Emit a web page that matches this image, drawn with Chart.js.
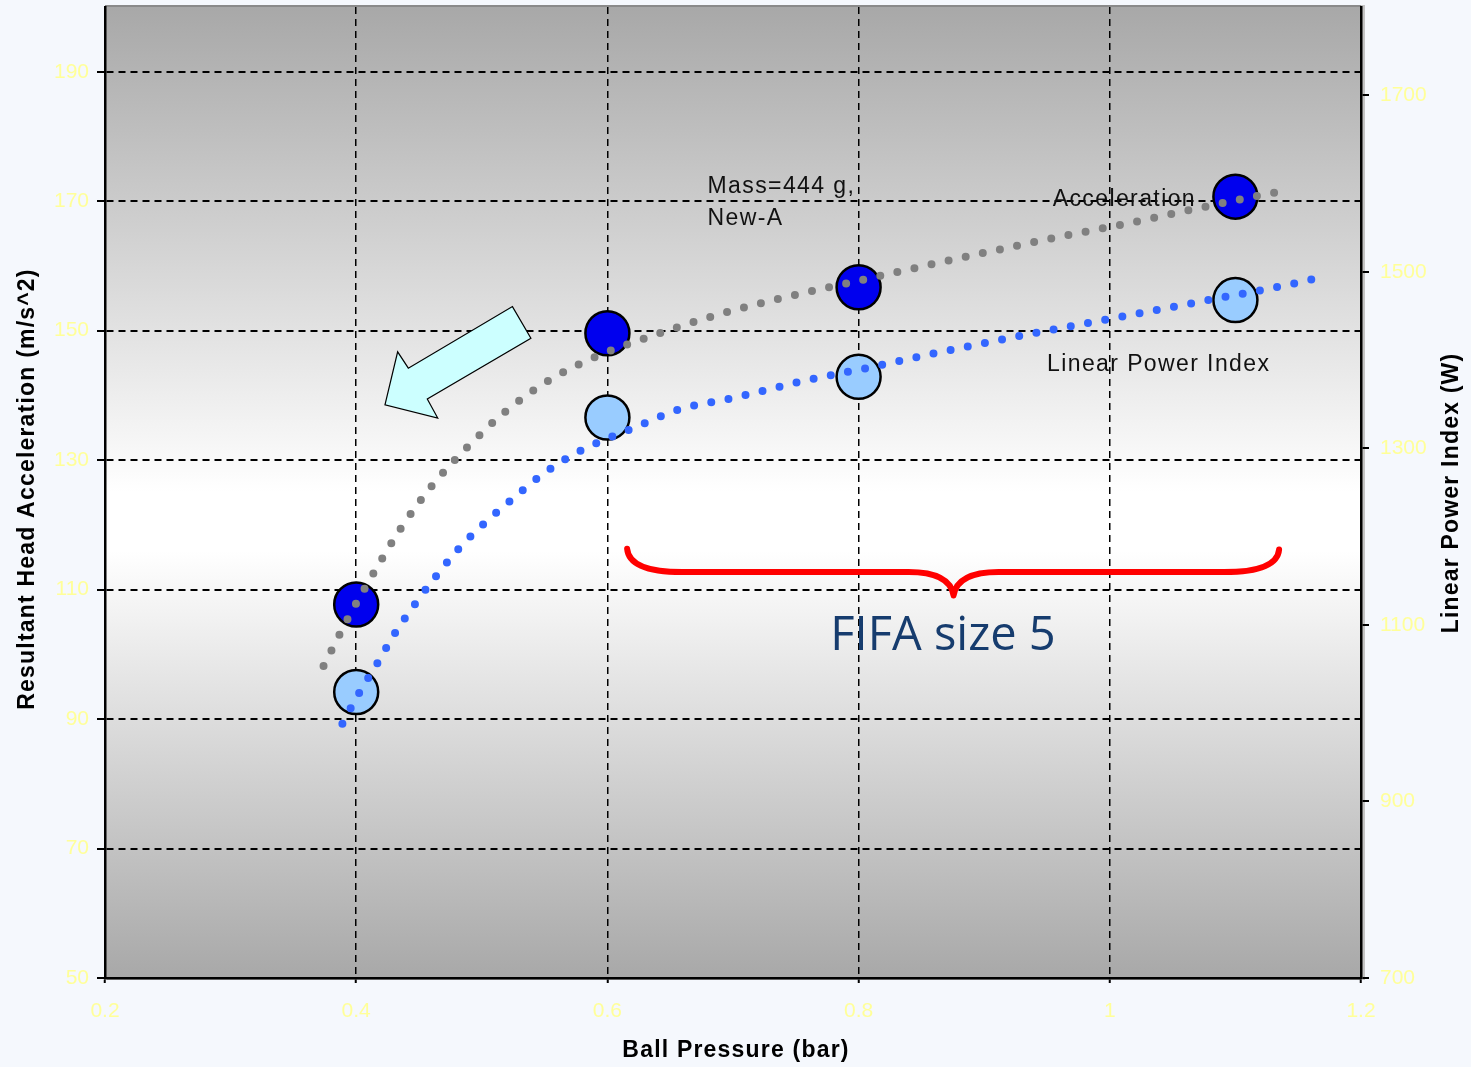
<!DOCTYPE html>
<html>
<head>
<meta charset="utf-8">
<script src="https://cdn.jsdelivr.net/npm/chart.js@4.4.0/dist/chart.umd.min.js"></script>
<style>
  html, body { margin: 0; padding: 0; background: #f5f8fd; }
  #wrap { width: 1471px; height: 1067px; position: relative; }
</style>
</head>
<body>
<div id="wrap"><canvas id="chart"></canvas></div>
<script>
// --- data ---
const pressures = [0.4, 0.6, 0.8, 1.1];
const acceleration = [107.7, 149.6, 156.7, 170.7];
const powerIndex = [1024, 1335, 1381, 1468];

// trend lines (dotted)
const accelTrendX = [0.374, 0.393, 0.414, 0.436, 0.461, 0.489, 0.520, 0.555, 0.592, 0.631, 0.685, 0.740, 0.795, 0.850, 0.904, 0.960, 1.015, 1.070, 1.125, 1.139];
const accelTrendY = [98.2, 105.4, 112.6, 119.6, 126.2, 132.1, 137.7, 142.5, 146.1, 148.9, 152.3, 155.1, 157.5, 159.9, 162.2, 164.5, 166.6, 168.9, 171.1, 171.6];
const powerTrendX = [0.389, 0.402, 0.417, 0.431, 0.447, 0.464, 0.482, 0.502, 0.523, 0.545, 0.568, 0.593, 0.619, 0.657, 0.700, 0.755, 0.810, 0.865, 0.920, 0.975, 1.031, 1.086, 1.141, 1.169];
const powerTrendY = [988, 1022, 1057, 1091, 1124, 1156, 1187, 1215, 1241, 1267, 1289, 1307, 1322, 1344, 1357, 1376, 1392, 1409, 1425, 1440, 1455, 1470, 1485, 1494];

const xTicks = [0.2, 0.4, 0.6, 0.8, 1, 1.2];
const leftTicks = [50, 70, 90, 110, 130, 150, 170, 190];
const rightTicks = [700, 900, 1100, 1300, 1500, 1700];

const tickFont = { family: 'Liberation Sans', size: 21 };
const tickColor = '#ffff99';

function toPoints(xs, ys) {
    return xs.map((x, i) => ({ x: x, y: ys[i] }));
}

// annotations are placed in data units (x, left axis)
const arrowShape = [[0.4229, 138.55], [0.4330, 146.73], [0.4415, 144.21], [0.5244, 153.72],
                    [0.5391, 148.84], [0.4566, 139.45], [0.4649, 136.50]];
const brace = { left: [0.6157, 116.3], right: [1.1348, 116.2], level: 112.7, tip: [0.8756, 109.1] };
const notes = [
    { text: 'Mass=444 g,', x: 0.6797, y: 172.3 },
    { text: 'New-A', x: 0.6797, y: 167.3 },
    { text: 'Acceleration', x: 0.9545, y: 170.2 },
    { text: 'Linear Power Index', x: 0.9500, y: 144.8 }
];

const backdrop = {
    id: 'backdrop',
    beforeDraw(chart) {
        const { ctx, chartArea: a } = chart;
        ctx.save();
        ctx.fillStyle = '#c4c4c4';
        ctx.fillRect(a.left + 2, a.top - 2, a.width + 2, a.height + 4);
        const g = ctx.createLinearGradient(0, a.top, 0, a.bottom);
        g.addColorStop(0, '#a8a8a8');
        g.addColorStop(0.5, '#ffffff');
        g.addColorStop(0.56, '#ffffff');
        g.addColorStop(1, '#a8a8a8');
        ctx.fillStyle = g;
        ctx.fillRect(a.left, a.top, a.width, a.height);
        ctx.strokeStyle = '#8a8a8a';
        ctx.lineWidth = 2;
        ctx.beginPath();
        ctx.moveTo(a.left, a.top - 1);
        ctx.lineTo(a.right, a.top - 1);
        ctx.stroke();
        ctx.restore();
    }
};

function vTitle(ctx, text, x, y) {
    ctx.save();
    ctx.translate(x, y);
    ctx.rotate(-Math.PI / 2);
    ctx.fillText(text, 0, 0);
    ctx.restore();
}

const decorations = {
    id: 'decorations',
    beforeDatasetsDraw(chart) {
        const { ctx } = chart;
        const xs = chart.scales.x, ys = chart.scales.y;
        const px = v => xs.getPixelForValue(v);
        const py = v => ys.getPixelForValue(v);
        ctx.save();

        // arrow
        ctx.beginPath();
        arrowShape.forEach((p, i) => {
            if (i === 0) ctx.moveTo(px(p[0]), py(p[1]));
            else ctx.lineTo(px(p[0]), py(p[1]));
        });
        ctx.closePath();
        ctx.fillStyle = '#ccffff';
        ctx.fill();
        ctx.strokeStyle = '#000';
        ctx.lineWidth = 1.2;
        ctx.stroke();

        // red brace
        const lx = px(brace.left[0]), ly = py(brace.left[1]);
        const rx = px(brace.right[0]), ry = py(brace.right[1]);
        const hy = py(brace.level);
        const tx = px(brace.tip[0]), ty = py(brace.tip[1]);
        ctx.beginPath();
        ctx.moveTo(lx, ly);
        ctx.quadraticCurveTo(lx + 2, hy, lx + 55, hy);
        ctx.lineTo(tx - 45, hy);
        ctx.quadraticCurveTo(tx - 4, hy, tx, ty);
        ctx.quadraticCurveTo(tx + 4, hy, tx + 45, hy);
        ctx.lineTo(rx - 55, hy);
        ctx.quadraticCurveTo(rx - 2, hy, rx, ry);
        ctx.strokeStyle = '#ff0000';
        ctx.lineWidth = 6;
        ctx.lineCap = 'round';
        ctx.lineJoin = 'round';
        ctx.stroke();

        // text notes
        ctx.fillStyle = '#111';
        ctx.font = '23px "Liberation Sans"';
        ctx.letterSpacing = '1.4px';
        ctx.textBaseline = 'middle';
        ctx.textAlign = 'left';
        notes.forEach(n => ctx.fillText(n.text, px(n.x), py(n.y)));

        ctx.letterSpacing = '0px';
        ctx.fillStyle = '#163c6e';
        ctx.font = '47px "Open Sans"';
        ctx.fillText('FIFA size 5', px(0.7775), py(102.8));
        ctx.restore();
    },
    afterDraw(chart) {
        const { ctx } = chart;
        ctx.save();
        ctx.fillStyle = '#000';
        ctx.font = 'bold 23px "Liberation Sans"';
        ctx.letterSpacing = '1.2px';
        ctx.textAlign = 'center';
        ctx.textBaseline = 'middle';
        ctx.fillText('Ball Pressure (bar)', 736, 1051);
        vTitle(ctx, 'Resultant Head Acceleration (m/s^2)', 28, 489);
        vTitle(ctx, 'Linear Power Index (W)', 1452, 493);
        ctx.restore();
    }
};

const ctx = document.getElementById('chart').getContext('2d');
new Chart(ctx, {
    type: 'scatter',
    data: {
        datasets: [
            {
                label: 'Acceleration trend',
                type: 'line',
                data: toPoints(accelTrendX, accelTrendY),
                yAxisID: 'y',
                borderColor: '#808080',
                borderWidth: 8,
                borderDash: [0, 17.5],
                borderCapStyle: 'round',
                pointRadius: 0,
                cubicInterpolationMode: 'monotone',
                fill: false,
                order: 0
            },
            {
                label: 'Linear Power Index trend',
                type: 'line',
                data: toPoints(powerTrendX, powerTrendY),
                yAxisID: 'y2',
                borderColor: '#3366ff',
                borderWidth: 8,
                borderDash: [0, 17.5],
                borderCapStyle: 'round',
                pointRadius: 0,
                cubicInterpolationMode: 'monotone',
                fill: false,
                order: 0
            },
            {
                label: 'Acceleration',
                data: toPoints(pressures, acceleration),
                yAxisID: 'y',
                pointRadius: 22,
                pointBackgroundColor: '#0000ee',
                pointBorderColor: '#000',
                pointBorderWidth: 2.5,
                order: 1
            },
            {
                label: 'Linear Power Index',
                data: toPoints(pressures, powerIndex),
                yAxisID: 'y2',
                pointRadius: 22,
                pointBackgroundColor: '#99ccff',
                pointBorderColor: '#000',
                pointBorderWidth: 2.5,
                order: 1
            }
        ]
    },
    options: {
        responsive: true,
        maintainAspectRatio: false,
        animation: false,
        layout: { autoPadding: false, padding: { top: 7, left: 0, right: 0, bottom: 0 } },
        plugins: {
            legend: { display: false },
            tooltip: { enabled: false }
        },
        scales: {
            x: {
                type: 'linear',
                min: 0.2,
                max: 1.2,
                afterBuildTicks: s => { s.ticks = xTicks.map(v => ({ value: v })); },
                afterFit: s => { s.height = 89; s.paddingLeft = 0; s.paddingRight = 0; },
                grid: { color: '#000', lineWidth: 1.5, tickLength: 5, tickWidth: 2, tickBorderDash: [] },
                border: { display: true, color: '#000', width: 2.5, dash: [7, 5] },
                ticks: { color: tickColor, font: tickFont, padding: 16, callback: v => String(v) }
            },
            y: {
                position: 'left',
                min: 50,
                max: 200,
                afterBuildTicks: s => { s.ticks = leftTicks.map(v => ({ value: v })); },
                afterFit: s => { s.width = 105; s.paddingTop = 0; s.paddingBottom = 0; },
                grid: { color: '#000', lineWidth: 2, tickLength: 8, tickWidth: 2, tickBorderDash: [] },
                border: { display: true, color: '#000', width: 2.5, dash: [7, 5] },
                ticks: { color: tickColor, font: tickFont, padding: 8, callback: v => String(v) }
            },
            y2: {
                position: 'right',
                min: 700,
                max: 1800,
                afterBuildTicks: s => { s.ticks = rightTicks.map(v => ({ value: v })); },
                afterFit: s => { s.width = 110; s.paddingTop = 0; s.paddingBottom = 0; },
                grid: { drawOnChartArea: false, color: '#000', lineWidth: 2, tickLength: 8, tickWidth: 2 },
                border: { display: true, color: '#000', width: 2.5 },
                ticks: { color: tickColor, font: tickFont, padding: 11, callback: v => String(v) }
            }
        }
    },
    plugins: [backdrop, decorations]
});
</script>
</body>
</html>
